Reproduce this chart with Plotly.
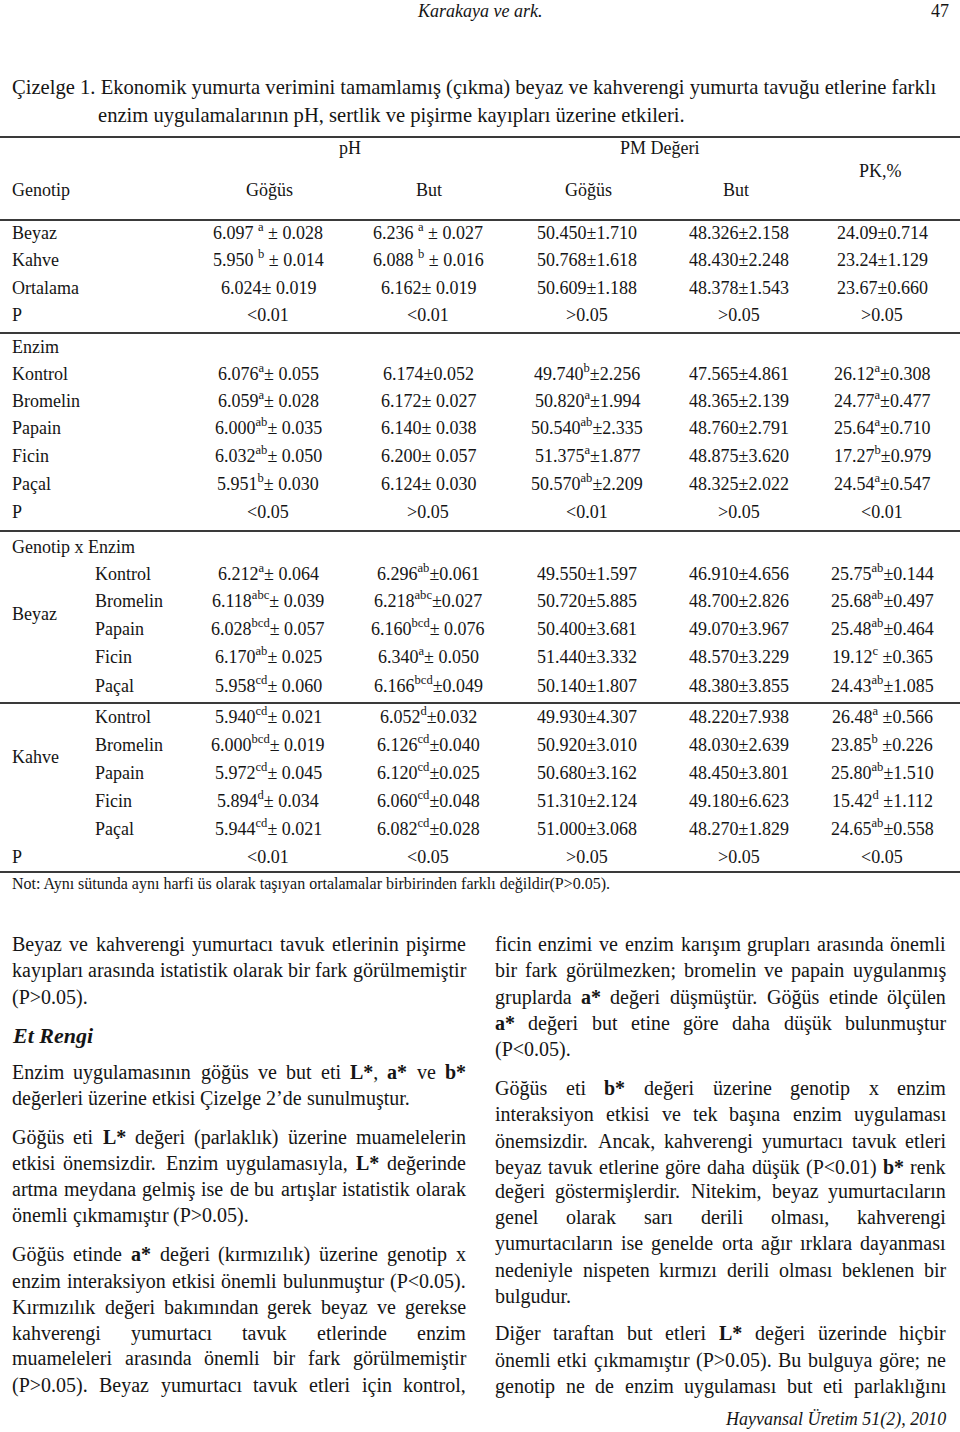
import re
import plotly.graph_objects as go

W, H = 960, 1432
SERIF = "Liberation Serif, Times New Roman, serif"
INK = "#151515"

# ---------------- page texts ----------------
page_author = "Karakaya ve ark."
page_number = "47"
caption_lines = [
    "Çizelge 1. Ekonomik yumurta verimini tamamlamış (çıkma) beyaz ve kahverengi yumurta tavuğu etlerine farklı",
    "enzim uygulamalarının pH, sertlik ve pişirme kayıpları üzerine etkileri.",
]
table_note = "Not: Aynı sütunda aynı harfi üs olarak taşıyan ortalamalar birbirinden farklı değildir(P>0.05)."
footer = "Hayvansal Üretim 51(2), 2010"

# ---------------- table data ----------------
group_heads = ["pH", "PM Değeri"]
col_heads = ["Göğüs", "But", "Göğüs", "But"]
pk_head = "PK,%"
first_head = "Genotip"

genotip_rows = ["Beyaz", "Kahve", "Ortalama", "P"]
genotip_ph_gogus = ["6.097 ^{a} ± 0.028", "5.950 ^{b} ± 0.014", "6.024± 0.019", "<0.01"]
genotip_ph_but = ["6.236 ^{a} ± 0.027", "6.088 ^{b} ± 0.016", "6.162± 0.019", "<0.01"]
genotip_pm_gogus = ["50.450±1.710", "50.768±1.618", "50.609±1.188", ">0.05"]
genotip_pm_but = ["48.326±2.158", "48.430±2.248", "48.378±1.543", ">0.05"]
genotip_pk = ["24.09±0.714", "23.24±1.129", "23.67±0.660", ">0.05"]

enzim_title = "Enzim"
enzim_rows = ["Kontrol", "Bromelin", "Papain", "Ficin", "Paçal", "P"]
enzim_ph_gogus = ["6.076^{a}± 0.055", "6.059^{a}± 0.028", "6.000^{ab}± 0.035", "6.032^{ab}± 0.050", "5.951^{b}± 0.030", "<0.05"]
enzim_ph_but = ["6.174±0.052", "6.172± 0.027", "6.140± 0.038", "6.200± 0.057", "6.124± 0.030", ">0.05"]
enzim_pm_gogus = ["49.740^{b}±2.256", "50.820^{a}±1.994", "50.540^{ab}±2.335", "51.375^{a}±1.877", "50.570^{ab}±2.209", "<0.01"]
enzim_pm_but = ["47.565±4.861", "48.365±2.139", "48.760±2.791", "48.875±3.620", "48.325±2.022", ">0.05"]
enzim_pk = ["26.12^{a}±0.308", "24.77^{a}±0.477", "25.64^{a}±0.710", "17.27^{b}±0.979", "24.54^{a}±0.547", "<0.01"]

gxe_title = "Genotip x Enzim"
gxe_groups = ["Beyaz", "Kahve"]
gxe_enzymes = ["Kontrol", "Bromelin", "Papain", "Ficin", "Paçal"]
beyaz_ph_gogus = ["6.212^{a}± 0.064", "6.118^{abc}± 0.039", "6.028^{bcd}± 0.057", "6.170^{ab}± 0.025", "5.958^{cd}± 0.060"]
beyaz_ph_but = ["6.296^{ab}±0.061", "6.218^{abc}±0.027", "6.160^{bcd}± 0.076", "6.340^{a}± 0.050", "6.166^{bcd}±0.049"]
beyaz_pm_gogus = ["49.550±1.597", "50.720±5.885", "50.400±3.681", "51.440±3.332", "50.140±1.807"]
beyaz_pm_but = ["46.910±4.656", "48.700±2.826", "49.070±3.967", "48.570±3.229", "48.380±3.855"]
beyaz_pk = ["25.75^{ab}±0.144", "25.68^{ab}±0.497", "25.48^{ab}±0.464", "19.12^{c} ±0.365", "24.43^{ab}±1.085"]
kahve_ph_gogus = ["5.940^{cd}± 0.021", "6.000^{bcd}± 0.019", "5.972^{cd}± 0.045", "5.894^{d}± 0.034", "5.944^{cd}± 0.021"]
kahve_ph_but = ["6.052^{d}±0.032", "6.126^{cd}±0.040", "6.120^{cd}±0.025", "6.060^{cd}±0.048", "6.082^{cd}±0.028"]
kahve_pm_gogus = ["49.930±4.307", "50.920±3.010", "50.680±3.162", "51.310±2.124", "51.000±3.068"]
kahve_pm_but = ["48.220±7.938", "48.030±2.639", "48.450±3.801", "49.180±6.623", "48.270±1.829"]
kahve_pk = ["26.48^{a} ±0.566", "23.85^{b} ±0.226", "25.80^{ab}±1.510", "15.42^{d} ±1.112", "24.65^{ab}±0.558"]
gxe_p = ["<0.01", "<0.05", ">0.05", ">0.05", "<0.05"]

# ---------------- body text (braces = bold, True = justified) ----------------
left_heading = "Et Rengi"
left_lines = [
    ("Beyaz ve kahverengi yumurtacı tavuk etlerinin pişirme", True),
    ("kayıpları arasında istatistik olarak bir fark görülmemiştir", True),
    ("(P>0.05).", False),
    None,
    ("Enzim uygulamasının göğüs ve but eti {L*}, {a*} ve {b*}", True),
    ("değerleri üzerine etkisi Çizelge 2’de sunulmuştur.", False),
    ("Göğüs eti {L*} değeri (parlaklık) üzerine muamelelerin", True),
    ("etkisi önemsizdir. Enzim uygulamasıyla, {L*} değerinde", True),
    ("artma meydana gelmiş ise de bu artışlar istatistik olarak", True),
    ("önemli çıkmamıştır (P>0.05).", False),
    ("Göğüs etinde {a*} değeri (kırmızılık) üzerine genotip x", True),
    ("enzim interaksiyon etkisi önemli bulunmuştur (P<0.05).", True),
    ("Kırmızılık değeri bakımından gerek beyaz ve gerekse", True),
    ("kahverengi yumurtacı tavuk etlerinde enzim", True),
    ("muameleleri arasında önemli bir fark görülmemiştir", True),
    ("(P>0.05). Beyaz yumurtacı tavuk etleri için kontrol,", True),
]
right_lines = [
    ("ficin enzimi ve enzim karışım grupları arasında önemli", True),
    ("bir fark görülmezken; bromelin ve papain uygulanmış", True),
    ("gruplarda {a*} değeri düşmüştür. Göğüs etinde ölçülen", True),
    ("{a*} değeri  but etine göre daha düşük bulunmuştur", True),
    ("(P<0.05).", False),
    ("Göğüs eti {b*} değeri üzerine genotip x enzim", True),
    ("interaksiyon etkisi ve tek başına enzim uygulaması", True),
    ("önemsizdir. Ancak, kahverengi yumurtacı tavuk etleri", True),
    ("beyaz tavuk etlerine göre daha düşük (P<0.01) {b*} renk", True),
    ("değeri göstermişlerdir. Nitekim, beyaz yumurtacıların", True),
    ("genel olarak sarı derili olması, kahverengi", True),
    ("yumurtacıların ise genelde orta ağır ırklara dayanması", True),
    ("nedeniyle nispeten kırmızı derili olması beklenen bir", True),
    ("bulgudur.", False),
    ("Diğer taraftan but etleri {L*} değeri üzerinde hiçbir", True),
    ("önemli etki çıkmamıştır (P>0.05). Bu bulguya göre; ne", True),
    ("genotip ne de enzim uygulaması but eti parlaklığını", True),
]
left_y = [944, 970, 997, 1035, 1072, 1098, 1137, 1163, 1189, 1215, 1254, 1281, 1307, 1333, 1358, 1385]
right_y = [944, 970, 997, 1023, 1049, 1088, 1114, 1141, 1167, 1191, 1217, 1243, 1270, 1296, 1333, 1360, 1386]

# Times-compatible advance widths (per 1000 em), used to justify lines
REG = {" ": 250, "(": 333, ")": 333, "*": 500, ",": 250, ".": 250, ":": 278, ";": 278,
       "<": 564, ">": 564, "’": 333, "'": 180, "x": 500}
REG.update({d: 500 for d in "0123456789"})
REG.update(dict(zip("ABCDEFGHIJKLMNOPQRSTUVWXYZ",
                    [722, 667, 667, 722, 611, 556, 722, 722, 333, 389, 722, 611, 889,
                     722, 722, 556, 722, 667, 556, 611, 722, 722, 944, 722, 722, 611])))
REG.update(dict(zip("abcdefghijklmnopqrstuvwxyz",
                    [444, 500, 444, 500, 444, 333, 500, 500, 278, 278, 500, 278, 778,
                     500, 500, 500, 500, 333, 389, 278, 500, 500, 722, 500, 500, 444])))
REG.update({"ç": 444, "ğ": 500, "ı": 278, "ö": 500, "ş": 389, "ü": 500,
            "Ç": 667, "Ğ": 722, "İ": 333, "Ö": 722, "Ş": 556, "Ü": 722})
BOLD = {"L": 667, "a": 500, "b": 556, "*": 500, ",": 250}


def word_width(w, size):
    bold = False
    total = 0
    for ch in w:
        if ch == "{":
            bold = True
        elif ch == "}":
            bold = False
        else:
            total += (BOLD.get(ch) if bold and ch in BOLD else REG.get(ch, 500))
    return total * size / 1000.0


def esc(s):
    return s.replace("<", "&lt;").replace(">", "&gt;")


def word_html(w):
    return esc(w).replace("{", "<b>").replace("}", "</b>")


def cell_html(s):
    return re.sub(r"\^\{(\w+)\}", r"<sup>\1</sup>", esc(s))


annotations = []


def txt(x, y, s, size=18, anchor="center", color=INK, yanchor="middle"):
    annotations.append(dict(
        x=x, y=y, xref="x", yref="y", text=s, showarrow=False,
        xanchor=anchor, yanchor=yanchor, borderpad=0, borderwidth=0,
        font=dict(family=SERIF, size=size, color=color)))


def cell(x, y, s, size, anchor="center"):
    # anchor on the bottom of the text box so superscripts do not push the baseline down
    txt(x, y + 0.65 * size, cell_html(s), size=size, anchor=anchor, yanchor="bottom")


def paragraph_line(line, y, x0, x1, size=20):
    text, justify = line
    words = text.split()
    widths = [word_width(w, size) for w in words]
    if justify and len(words) > 1:
        gap = (x1 - x0 - sum(widths)) / (len(words) - 1)
    else:
        gap = REG[" "] * size / 1000.0
    x = x0
    for w, wd in zip(words, widths):
        txt(x, y, word_html(w), size=size, anchor="left")
        x += wd + gap


# ---------------- header & caption ----------------
txt(479, 11, "<i>" + page_author + "</i>", size=18)
txt(949, 11, page_number, size=18, anchor="right")
txt(12, 87, esc(caption_lines[0]), size=20.6, anchor="left")
txt(98, 115, esc(caption_lines[1]), size=20.6, anchor="left")

# ---------------- table ----------------
cols = [268, 428, 587, 739, 882]
TS = 18

txt(350, 148, group_heads[0], TS)
txt(660, 148, group_heads[1], TS)
txt(880, 171, pk_head, TS)
txt(12, 190, first_head, TS, anchor="left")
for cx, h in zip([269, 429, 588, 736], col_heads):
    txt(cx, 190, h, TS)

genotip_y = [231, 258, 286, 313]
genotip_cols = [genotip_ph_gogus, genotip_ph_but, genotip_pm_gogus, genotip_pm_but, genotip_pk]
for i, (lab, y) in enumerate(zip(genotip_rows, genotip_y)):
    cell(12, y, lab, TS, anchor="left")
    for cx, col in zip(cols, genotip_cols):
        cell(cx, y, col[i], TS)

cell(12, 345, enzim_title, TS, anchor="left")
enzim_y = [372, 399, 426, 454, 482, 510]
enzim_cols = [enzim_ph_gogus, enzim_ph_but, enzim_pm_gogus, enzim_pm_but, enzim_pk]
for i, (lab, y) in enumerate(zip(enzim_rows, enzim_y)):
    cell(12, y, lab, TS, anchor="left")
    for cx, col in zip(cols, enzim_cols):
        cell(cx, y, col[i], TS)

cell(12, 545, gxe_title, TS, anchor="left")
gxe_blocks = [
    (gxe_groups[0], 612, [572, 599, 627, 655, 684],
     [beyaz_ph_gogus, beyaz_ph_but, beyaz_pm_gogus, beyaz_pm_but, beyaz_pk]),
    (gxe_groups[1], 755, [715, 743, 771, 799, 827],
     [kahve_ph_gogus, kahve_ph_but, kahve_pm_gogus, kahve_pm_but, kahve_pk]),
]
for grp, gy, ys, gcols in gxe_blocks:
    cell(12, gy, grp, TS, anchor="left")
    for i, (lab, y) in enumerate(zip(gxe_enzymes, ys)):
        cell(95, y, lab, TS, anchor="left")
        for cx, col in zip(cols, gcols):
            cell(cx, y, col[i], TS)

cell(12, 855, "P", TS, anchor="left")
for cx, v in zip(cols, gxe_p):
    cell(cx, 855, v, TS)

txt(12, 884, esc(table_note), size=16, anchor="left")

rules = [137, 220, 333, 531, 703, 872]
shapes = [dict(type="line", xref="x", yref="y", x0=0, x1=W, y0=ry, y1=ry,
               line=dict(color="#3a3a3a", width=1.8)) for ry in rules]

# ---------------- body text ----------------
LX0, LX1 = 12, 466
RX0, RX1 = 495, 946
for line, y in zip(left_lines, left_y):
    if line is None:
        txt(LX0, y, "<b><i>" + left_heading + "</i></b>", size=22, anchor="left")
    else:
        paragraph_line(line, y, LX0, LX1)
for line, y in zip(right_lines, right_y):
    paragraph_line(line, y, RX0, RX1)

txt(946, 1419, "<i>" + esc(footer) + "</i>", size=18, anchor="right")

fig = go.Figure()
fig.add_trace(go.Scatter(x=[0, W], y=[0, H], mode="markers",
                         marker=dict(opacity=0), hoverinfo="skip", showlegend=False))
fig.update_layout(
    width=W, height=H,
    margin=dict(l=0, r=0, t=0, b=0),
    paper_bgcolor="white", plot_bgcolor="white",
    xaxis=dict(range=[0, W], visible=False, fixedrange=True),
    yaxis=dict(range=[H, 0], visible=False, fixedrange=True),
    annotations=annotations, shapes=shapes,
    showlegend=False,
)
# drop the default 8px body margin so the figure fills the window exactly
fig.write_html("out.html", config={"displayModeBar": False},
               post_script="document.body.style.margin = '0';")
